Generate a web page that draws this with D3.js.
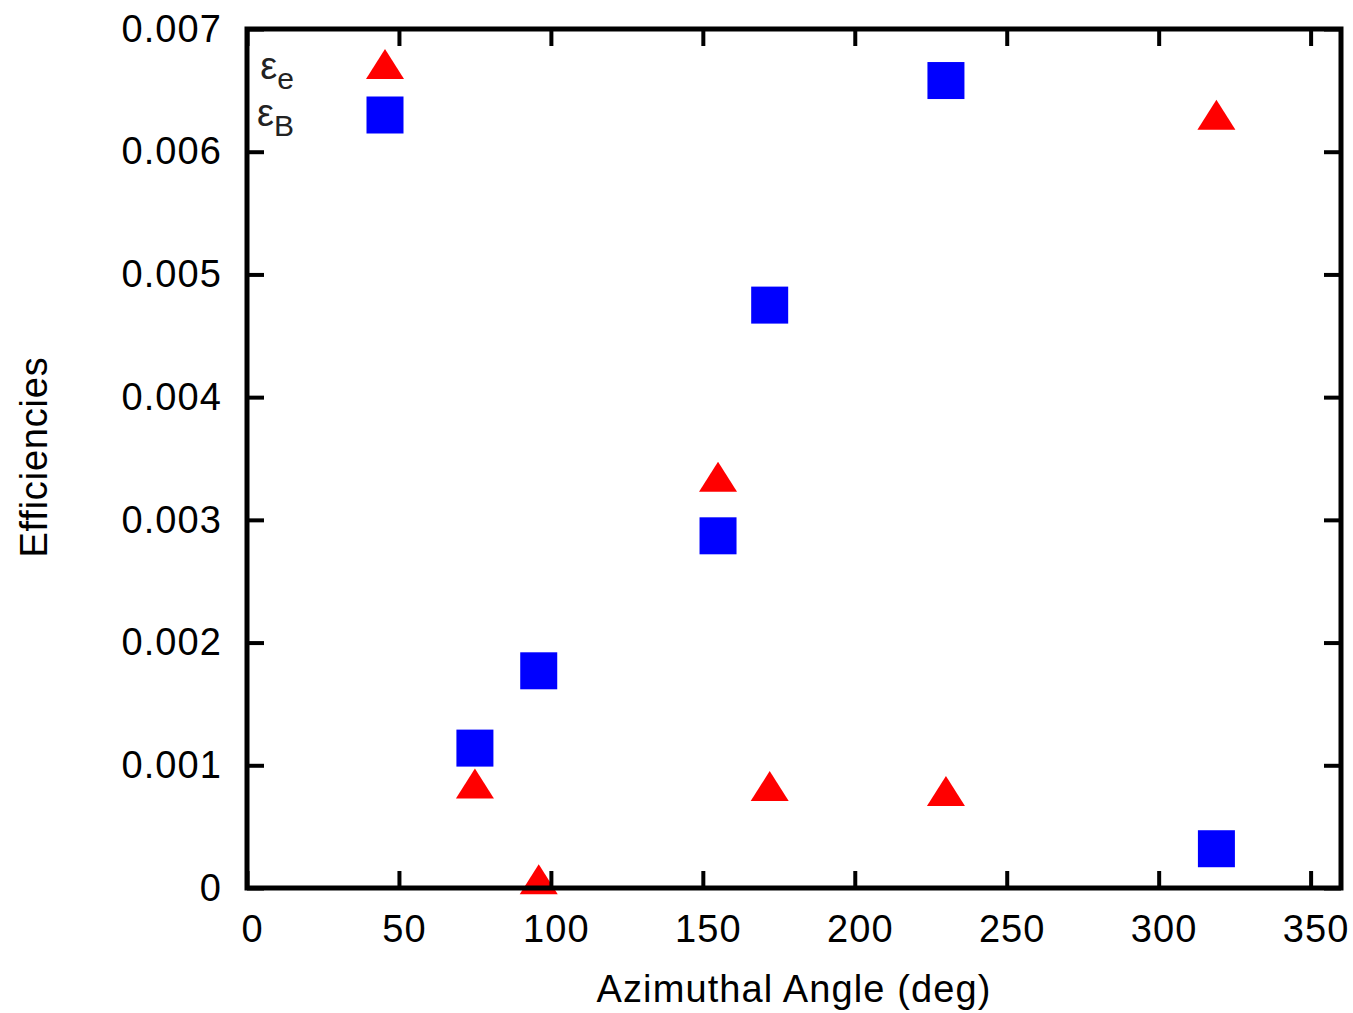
<!DOCTYPE html>
<html>
<head>
<meta charset="utf-8">
<script src="https://cdn.jsdelivr.net/npm/d3@7"></script>
<style>
  html, body { margin: 0; padding: 0; background: #fff; }
  svg { display: block; font-family: "Liberation Sans", Arial, Helvetica, sans-serif; }
</style>
</head>
<body>
<svg id="chart" width="1353" height="1013"></svg>
<script>
// Azimuthal angle of each fitted sector (deg)
const angles = [75, 96, 155, 172, 230, 319];
// Electron energy fraction epsilon_e
const epsE = [0.00081, 0.00003, 0.00331, 0.00079, 0.00075, 0.00626];
// Magnetic energy fraction epsilon_B
const epsB = [0.00114, 0.00177, 0.00287, 0.00475, 0.00658, 0.00032];

const xTicks = [0, 50, 100, 150, 200, 250, 300, 350];
const yTicks = [0, 0.001, 0.002, 0.003, 0.004, 0.005, 0.006, 0.007];

const plot = { left: 247, right: 1341, top: 29, bottom: 888 };
const FS = 38;
const LS = 1.1; // letter spacing for the wide label lettering

const svg = d3.select("#chart");

const x = d3.scaleLinear().domain([0, 360]).range([plot.left, plot.right]);
const y = d3.scaleLinear().domain([0, 0.007]).range([plot.bottom, plot.top]);

// marker shapes
const SQ = 37;            // square side
const TRI_HW = 19;        // triangle half width
const TRI_H = 30;         // triangle height (centroid on the point)
function triPath(cx, cy) {
  return `M${cx},${cy - TRI_H * 2 / 3}L${cx + TRI_HW},${cy + TRI_H / 3}L${cx - TRI_HW},${cy + TRI_H / 3}Z`;
}

const pts = angles.map((a, i) => ({ a, e: epsE[i], b: epsB[i] }));

// epsilon_B squares
svg.append("g").selectAll("rect").data(pts).join("rect")
  .attr("x", d => x(d.a) - SQ / 2)
  .attr("y", d => y(d.b) - SQ / 2)
  .attr("width", SQ).attr("height", SQ)
  .attr("fill", "#0000ff");

// epsilon_e triangles
svg.append("g").selectAll("path").data(pts).join("path")
  .attr("d", d => triPath(x(d.a), y(d.e)))
  .attr("fill", "#ff0000");

// axes (ticks point inward, mirrored on top and right)
const TICK = 17;
function styleAxis(g) {
  g.attr("font-family", null).attr("font-size", null);
  g.select(".domain").remove();
  g.selectAll(".tick line").attr("stroke", "#000").attr("stroke-width", 4);
  g.selectAll(".tick text").attr("fill", "#000").attr("font-size", FS)
    .attr("letter-spacing", LS);
}

const gx = svg.append("g")
  .attr("transform", `translate(0,${plot.bottom})`)
  .call(d3.axisBottom(x).tickValues(xTicks).tickSizeInner(-TICK).tickSizeOuter(0)
    .tickPadding(27).tickFormat(d3.format("d")));
styleAxis(gx);
gx.selectAll(".tick text").attr("dx", 5);

const gxTop = svg.append("g")
  .attr("transform", `translate(0,${plot.top})`)
  .call(d3.axisTop(x).tickValues(xTicks).tickSizeInner(-TICK).tickSizeOuter(0).tickFormat(""));
styleAxis(gxTop);

const gy = svg.append("g")
  .attr("transform", `translate(${plot.left},0)`)
  .call(d3.axisLeft(y).tickValues(yTicks).tickSizeInner(-TICK).tickSizeOuter(0)
    .tickPadding(25).tickFormat(d => d === 0 ? "0" : d3.format(".3f")(d)));
styleAxis(gy);

const gyRight = svg.append("g")
  .attr("transform", `translate(${plot.right},0)`)
  .call(d3.axisRight(y).tickValues(yTicks).tickSizeInner(-TICK).tickSizeOuter(0).tickFormat(""));
styleAxis(gyRight);

// frame
svg.append("rect")
  .attr("x", plot.left).attr("y", plot.top)
  .attr("width", plot.right - plot.left).attr("height", plot.bottom - plot.top)
  .attr("fill", "none").attr("stroke", "#000").attr("stroke-width", 5);

// axis titles
svg.append("text")
  .attr("x", 794).attr("y", 1002)
  .attr("text-anchor", "middle").attr("font-size", FS).attr("fill", "#000")
  .attr("letter-spacing", LS)
  .text("Azimuthal Angle (deg)");

svg.append("text")
  .attr("transform", "translate(47,457) rotate(-90)")
  .attr("text-anchor", "middle").attr("font-size", FS).attr("fill", "#000")
  .attr("letter-spacing", 0.8)
  .text("Efficiencies");

// key: label followed by its sample marker
const keyRows = [
  { sym: "ε", sub: "e", base: 79, sampleY: 69, type: "tri" },
  { sym: "ε", sub: "B", base: 126, sampleY: 115, type: "sq" }
];
const keyTextRight = 294, keySampleX = 385;
const key = svg.append("g");
keyRows.forEach(r => {
  const t = key.append("text")
    .attr("x", keyTextRight).attr("y", r.base)
    .attr("text-anchor", "end").attr("fill", "#222").attr("font-size", FS);
  t.append("tspan").text(r.sym);
  t.append("tspan").attr("font-size", 30).attr("dy", 10).text(r.sub);
  if (r.type === "tri") {
    key.append("path").attr("d", triPath(keySampleX, r.sampleY)).attr("fill", "#ff0000");
  } else {
    key.append("rect")
      .attr("x", keySampleX - SQ / 2).attr("y", r.sampleY - SQ / 2)
      .attr("width", SQ).attr("height", SQ).attr("fill", "#0000ff");
  }
});
</script>
</body>
</html>
